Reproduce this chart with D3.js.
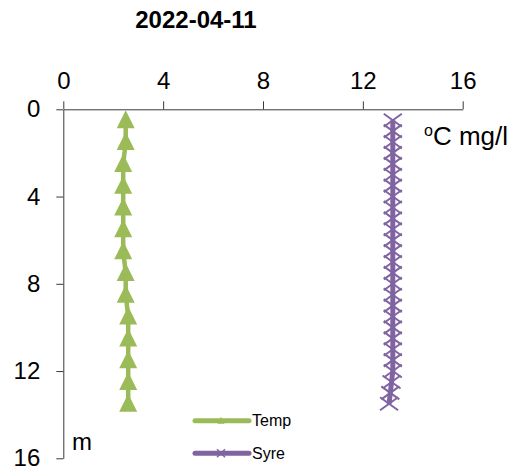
<!DOCTYPE html>
<html>
<head>
<meta charset="utf-8">
<script src="https://cdn.jsdelivr.net/npm/d3@7"></script>
<style>
  body { margin: 0; background: #fff; }
  svg { font-family: Arial, "Liberation Sans", sans-serif; }
</style>
</head>
<body>
<div id="wrapper"></div>
<script>
// Data
const title = '2022-04-11';
const tickValues = [0, 4, 8, 12, 16];

const tempDepth = [0.5, 1.5, 2.5, 3.5, 4.5, 5.5, 6.5, 7.5, 8.5, 9.5, 10.5, 11.5, 12.5, 13.5];
const tempValue = [2.5, 2.5, 2.4, 2.4, 2.4, 2.4, 2.4, 2.5, 2.5, 2.6, 2.6, 2.6, 2.6, 2.6];

const syreDepth = [0.5, 1, 1.5, 2, 2.5, 3, 3.5, 4, 4.5, 5, 5.5, 6, 6.5, 7, 7.5, 8, 8.5, 9,
  9.5, 10, 10.5, 11, 11.5, 12, 12.5, 13, 13.5];
const syreValue = [13.2, 13.2, 13.2, 13.2, 13.2, 13.2, 13.2, 13.2, 13.2, 13.2, 13.2, 13.2,
  13.2, 13.2, 13.2, 13.2, 13.2, 13.2, 13.2, 13.2, 13.2, 13.2, 13.2, 13.2, 13.15, 13.1, 13.05];

const seriesNames = ['Temp', 'Syre'];
const seriesColors = ['#9BBB59', '#8064A2'];

const temp = tempDepth.map((d, i) => ({ depth: d, value: tempValue[i] }));
const syre = syreDepth.map((d, i) => ({ depth: d, value: syreValue[i] }));

// Dimensions
const dimensions = {
  width: 518,
  height: 472,
  margin: { top: 109.3, left: 63.3 },
  boundedWidth: 399.4,
  boundedHeight: 349,
};

const xScale = d3.scaleLinear().domain([0, 16]).range([0, dimensions.boundedWidth]);
const yScale = d3.scaleLinear().domain([0, 16]).range([0, dimensions.boundedHeight]);

const svg = d3
  .select('#wrapper')
  .append('svg')
  .attr('width', dimensions.width)
  .attr('height', dimensions.height);

const bounds = svg
  .append('g')
  .attr('transform', `translate(${dimensions.margin.left}, ${dimensions.margin.top})`);

// Axes
const xAxis = d3.axisTop(xScale).tickValues(tickValues).tickSize(8).tickSizeOuter(0).tickPadding(12);
const yAxis = d3.axisLeft(yScale).tickValues(tickValues).tickSize(7).tickSizeOuter(0).tickPadding(16);

const xAxisG = bounds.append('g').call(xAxis);
const yAxisG = bounds.append('g').call(yAxis);

[xAxisG, yAxisG].forEach((g) => {
  g.selectAll('path, line').attr('stroke', '#3a3a3a').attr('stroke-width', 1);
  g.selectAll('text')
    .attr('fill', '#000')
    .style('font-size', '24px')
    .style('font-family', 'Arial, "Liberation Sans", sans-serif');
});

// Lines
const line = d3
  .line()
  .x((d) => xScale(d.value))
  .y((d) => yScale(d.depth));

bounds.append('path')
  .datum(temp)
  .attr('fill', 'none')
  .attr('stroke', seriesColors[0])
  .attr('stroke-width', 4.5)
  .attr('d', line);

bounds.append('path')
  .datum(syre)
  .attr('fill', 'none')
  .attr('stroke', seriesColors[1])
  .attr('stroke-width', 5)
  .attr('d', line);

// Markers
const triangle = (s) => `M0,${-s * 0.55}L${s / 2},${s * 0.45}L${-s / 2},${s * 0.45}Z`;
const cross = (hx, hy) => `M${-hx},${-hy}L${hx},${hy}M${-hx},${hy}L${hx},${-hy}`;

bounds.selectAll('.temp-marker')
  .data(temp)
  .enter()
  .append('path')
  .attr('class', 'temp-marker')
  .attr('transform', (d) => `translate(${xScale(d.value)}, ${yScale(d.depth)})`)
  .attr('d', triangle(18))
  .attr('fill', seriesColors[0]);

bounds.selectAll('.syre-marker')
  .data(syre)
  .enter()
  .append('path')
  .attr('class', 'syre-marker')
  .attr('transform', (d) => `translate(${xScale(d.value)}, ${yScale(d.depth)})`)
  .attr('d', cross(9, 6.5))
  .attr('fill', 'none')
  .attr('stroke', seriesColors[1])
  .attr('stroke-width', 2);

// Title and unit labels
svg.append('text')
  .attr('x', 196)
  .attr('y', 28)
  .attr('text-anchor', 'middle')
  .style('font-size', '24px')
  .style('font-weight', 'bold')
  .text(title);

const unit = svg.append('text')
  .attr('x', 424)
  .attr('y', 145)
  .style('font-size', '26px');
unit.append('tspan').style('font-size', '16px').attr('dy', -9).text('o');
unit.append('tspan').attr('dy', 9).text('C mg/l');

svg.append('text')
  .attr('x', 72)
  .attr('y', 450)
  .style('font-size', '24px')
  .text('m');

// Legend
const legend = svg.append('g');
const legendY = [420.7, 453.3];

seriesNames.forEach((name, i) => {
  const g = legend.append('g').attr('transform', `translate(0, ${legendY[i]})`);
  g.append('line')
    .attr('x1', 195)
    .attr('x2', 249)
    .attr('stroke', seriesColors[i])
    .attr('stroke-width', 5)
    .attr('stroke-linecap', 'round');
  if (i === 0) {
    g.append('path')
      .attr('transform', 'translate(221, 0)')
      .attr('d', triangle(7))
      .attr('fill', seriesColors[i]);
  } else {
    g.append('path')
      .attr('transform', 'translate(221, 0)')
      .attr('d', cross(4, 4))
      .attr('stroke', seriesColors[i])
      .attr('stroke-width', 1.5);
  }
  g.append('text')
    .attr('x', 252)
    .attr('dy', '0.36em')
    .style('font-size', '16px')
    .text(name);
});
</script>
</body>
</html>
